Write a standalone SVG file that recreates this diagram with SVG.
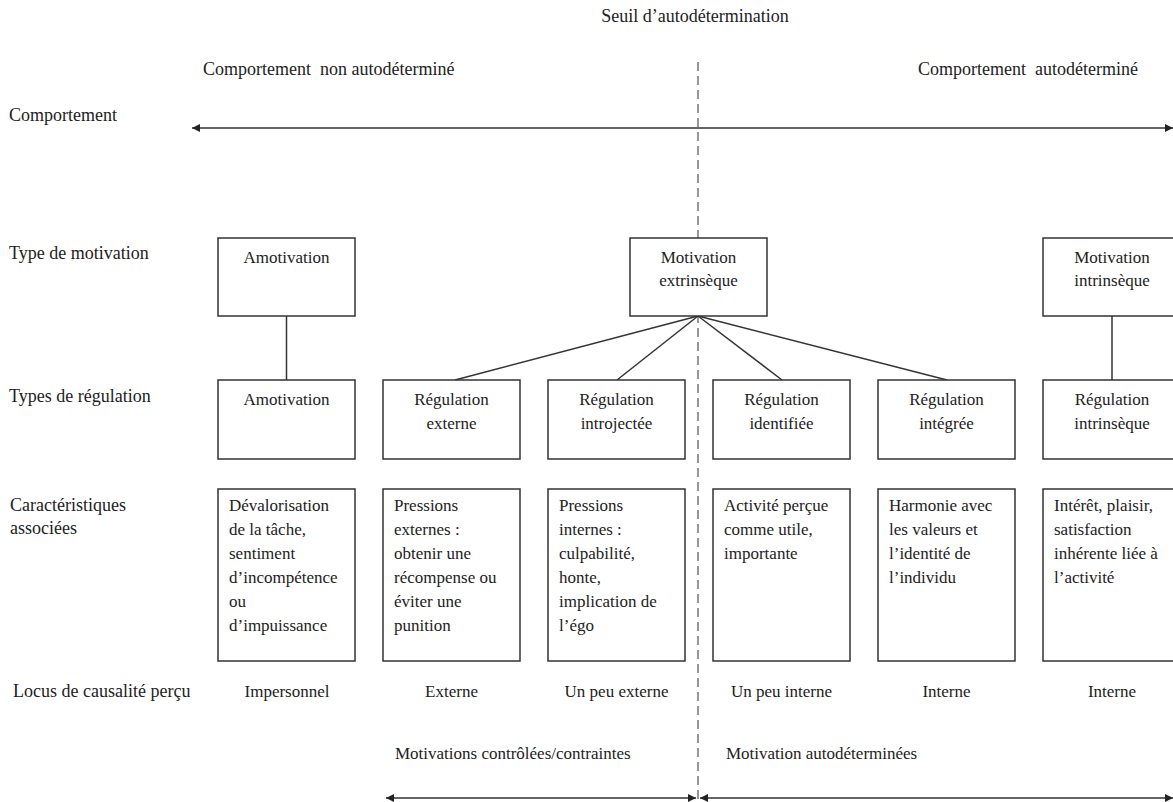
<svg xmlns="http://www.w3.org/2000/svg" width="1173" height="802" viewBox="0 0 1173 802">
<defs>
<style>
text{font-family:"Liberation Serif","Times New Roman",serif;font-size:17px;fill:#222}
.lab{font-size:18px}
.pre{white-space:pre}
.c{text-anchor:middle}
.box{fill:#fff;stroke:#333;stroke-width:1.5}
.ln{stroke:#333;stroke-width:1.5;fill:none}
.dash{stroke:#777;stroke-width:1.5;stroke-dasharray:9 5;fill:none}
</style>
<marker id="ah" viewBox="0 0 10 10" refX="10" refY="5" markerWidth="8" markerHeight="8" orient="auto-start-reverse" markerUnits="userSpaceOnUse">
<path d="M0,0 L10,5 L0,10 z" fill="#222"/>
</marker>
</defs>
<rect width="1173" height="802" fill="#fff"/>

<g id="headers">
<text x="695" y="22" class="c lab">Seuil d’autodétermination</text>
<text x="203" y="75" class="lab pre">Comportement  non autodéterminé</text>
<text x="918" y="75" class="lab pre">Comportement  autodéterminé</text>
</g>

<g id="row-labels">
<text x="9" y="121" class="lab">Comportement</text>
<text x="9" y="259" class="lab">Type de motivation</text>
<text x="9" y="402" class="lab">Types de régulation</text>
<text x="10" y="511" class="lab">Caractéristiques</text>
<text x="10" y="534" class="lab">associées</text>
<text x="13" y="697" class="lab">Locus de causalité perçu</text>
</g>

<g id="connectors">
<line class="dash" x1="698" y1="62" x2="698" y2="802"/>
<line class="ln" x1="192" y1="128" x2="1173" y2="128" marker-start="url(#ah)" marker-end="url(#ah)"/>
<line class="ln" x1="286.5" y1="316" x2="286.5" y2="380"/>
<line class="ln" x1="1112" y1="316" x2="1112" y2="380"/>
<line class="ln" x1="698" y1="316" x2="455" y2="380"/>
<line class="ln" x1="698" y1="316" x2="617" y2="380"/>
<line class="ln" x1="698" y1="316" x2="782" y2="380"/>
<line class="ln" x1="698" y1="316" x2="947" y2="380"/>
<line class="ln" x1="386" y1="798" x2="696" y2="798" marker-start="url(#ah)" marker-end="url(#ah)"/>
<line class="ln" x1="700" y1="798" x2="1173" y2="798" marker-start="url(#ah)" marker-end="url(#ah)"/>
</g>

<g id="n-amotivation">
<rect class="box" x="218" y="238" width="137" height="78"/>
<text x="286.5" y="263" class="c">Amotivation</text>
</g>
<g id="n-motivation-extrinseque">
<rect class="box" x="630" y="238" width="137" height="78"/>
<text x="698.5" y="263" class="c">Motivation</text>
<text x="698.5" y="286" class="c">extrinsèque</text>
</g>
<g id="n-motivation-intrinseque">
<rect class="box" x="1043" y="238" width="138" height="78"/>
<text x="1112" y="263" class="c">Motivation</text>
<text x="1112" y="286" class="c">intrinsèque</text>
</g>

<g id="n-reg-amotivation">
<rect class="box" x="218" y="380" width="137" height="79"/>
<text x="286.5" y="405" class="c">Amotivation</text>
</g>
<g id="n-reg-externe">
<rect class="box" x="383" y="380" width="137" height="79"/>
<text x="451.5" y="405" class="c">Régulation</text>
<text x="451.5" y="429" class="c">externe</text>
</g>
<g id="n-reg-introjectee">
<rect class="box" x="548" y="380" width="137" height="79"/>
<text x="616.5" y="405" class="c">Régulation</text>
<text x="616.5" y="429" class="c">introjectée</text>
</g>
<g id="n-reg-identifiee">
<rect class="box" x="713" y="380" width="137" height="79"/>
<text x="781.5" y="405" class="c">Régulation</text>
<text x="781.5" y="429" class="c">identifiée</text>
</g>
<g id="n-reg-integree">
<rect class="box" x="878" y="380" width="137" height="79"/>
<text x="946.5" y="405" class="c">Régulation</text>
<text x="946.5" y="429" class="c">intégrée</text>
</g>
<g id="n-reg-intrinseque">
<rect class="box" x="1043" y="380" width="138" height="79"/>
<text x="1112" y="405" class="c">Régulation</text>
<text x="1112" y="429" class="c">intrinsèque</text>
</g>

<g id="n-car-1">
<rect class="box" x="218" y="489" width="137" height="172"/>
<text x="229" y="511">Dévalorisation</text>
<text x="229" y="535">de la tâche,</text>
<text x="229" y="559">sentiment</text>
<text x="229" y="583">d’incompétence</text>
<text x="229" y="607">ou</text>
<text x="229" y="631">d’impuissance</text>
</g>
<g id="n-car-2">
<rect class="box" x="383" y="489" width="137" height="172"/>
<text x="394" y="511">Pressions</text>
<text x="394" y="535">externes :</text>
<text x="394" y="559">obtenir une</text>
<text x="394" y="583">récompense ou</text>
<text x="394" y="607">éviter une</text>
<text x="394" y="631">punition</text>
</g>
<g id="n-car-3">
<rect class="box" x="548" y="489" width="137" height="172"/>
<text x="559" y="511">Pressions</text>
<text x="559" y="535">internes :</text>
<text x="559" y="559">culpabilité,</text>
<text x="559" y="583">honte,</text>
<text x="559" y="607">implication de</text>
<text x="559" y="631">l’égo</text>
</g>
<g id="n-car-4">
<rect class="box" x="713" y="489" width="137" height="172"/>
<text x="724" y="511">Activité perçue</text>
<text x="724" y="535">comme utile,</text>
<text x="724" y="559">importante</text>
</g>
<g id="n-car-5">
<rect class="box" x="878" y="489" width="137" height="172"/>
<text x="889" y="511">Harmonie avec</text>
<text x="889" y="535">les valeurs et</text>
<text x="889" y="559">l’identité de</text>
<text x="889" y="583">l’individu</text>
</g>
<g id="n-car-6">
<rect class="box" x="1043" y="489" width="138" height="172"/>
<text x="1054" y="511">Intérêt, plaisir,</text>
<text x="1054" y="535">satisfaction</text>
<text x="1054" y="559">inhérente liée à</text>
<text x="1054" y="583">l’activité</text>
</g>

<g id="locus">
<text x="287" y="697" class="c">Impersonnel</text>
<text x="451.5" y="697" class="c">Externe</text>
<text x="616.5" y="697" class="c">Un peu externe</text>
<text x="781.5" y="697" class="c">Un peu interne</text>
<text x="946.5" y="697" class="c">Interne</text>
<text x="1112" y="697" class="c">Interne</text>
</g>

<g id="footer">
<text x="395" y="759">Motivations contrôlées/contraintes</text>
<text x="726" y="759">Motivation autodéterminées</text>
</g>
</svg>
